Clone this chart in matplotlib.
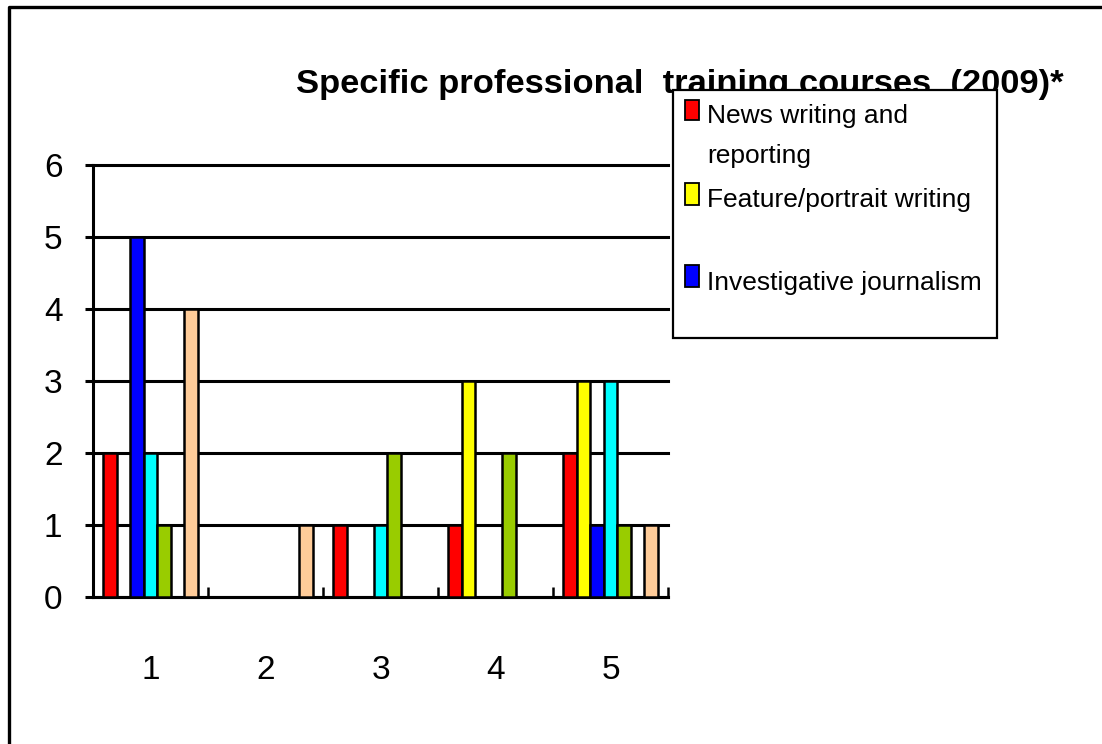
import numpy as np
import matplotlib.pyplot as plt
from matplotlib.patches import Rectangle
from matplotlib.lines import Line2D

# ─────────────────────────────────────────────
# DATOS
# ─────────────────────────────────────────────
categories = ["1", "2", "3", "4", "5"]

news          = [2, 0, 1, 1, 2]   # rojo
feature       = [0, 0, 0, 3, 3]   # amarillo
investigative = [5, 0, 0, 0, 1]   # azul
cyan_series   = [2, 0, 1, 0, 3]
green_series  = [1, 0, 2, 2, 1]
peach_series  = [4, 1, 0, 0, 1]

legend_labels = ["News writing and\nreporting", "Feature/portrait writing",
                 "Investigative journalism"]
title = "Specific professional  training courses  (2009)*"

# ─────────────────────────────────────────────
# ESTILO
# ─────────────────────────────────────────────
W, H = 1102, 744
FONT = ["Liberation Sans Narrow", "Liberation Sans", "DejaVu Sans"]
COLORS = ["#FF0000", "#FFFF00", "#0000FF", "#00FFFF", "#99CC00", "#FFCC99"]
SLOTS = [0, 1, 2, 3, 4, 6]      # el hueco 5 es una serie vacía
N_SLOTS = 7
BW = 0.1174


def fx(px):
    return px / W


def fy(py):
    return 1 - py / H


fig = plt.figure(figsize=(W / 100, H / 100), dpi=100)
fig.patch.set_facecolor("white")

ax = fig.add_axes([fx(93), fy(597), fx(668) - fx(93), fy(165) - fy(597)])

x = np.arange(len(categories))
series = [news, feature, investigative, cyan_series, green_series, peach_series]
for vals, col, slot in zip(series, COLORS, SLOTS):
    offs = (slot - (N_SLOTS - 1) / 2) * BW
    ax.bar(x + offs, vals, width=BW, color=col, edgecolor="black",
           linewidth=1.8, zorder=3)

ax.set_xlim(-0.5, len(categories) - 0.5)
ax.set_ylim(0, 6)
ax.set_yticks(range(0, 7))
ax.set_xticks(x)
ax.set_xticklabels(categories)
ax.set_xticks(np.arange(-0.5, len(categories)), minor=True)

ax.yaxis.grid(True, color="black", linewidth=2.2)
ax.set_axisbelow(True)
for gl in ax.yaxis.get_gridlines():
    gl.set_clip_on(False)
for s in ["top", "right"]:
    ax.spines[s].set_visible(False)
for s in ["left", "bottom"]:
    ax.spines[s].set_linewidth(2.2)

ax.tick_params(axis="y", direction="out", length=6, width=2.2, pad=16,
               labelsize=24)
ax.tick_params(axis="x", which="major", length=0, pad=42, labelsize=24)
ax.tick_params(axis="x", which="minor", direction="in", length=7, width=1.8)
for lab in ax.get_xticklabels() + ax.get_yticklabels():
    lab.set_family(FONT)

# título
fig.text(fx(680), fy(93), title, ha="center", va="baseline",
         fontsize=24.8, fontweight="bold", family=FONT)

# leyenda (recortada como en el original: solo caben 3 entradas)
fig.add_artist(Rectangle((fx(673), fy(338)), fx(997) - fx(673), fy(90) - fy(338),
                         transform=fig.transFigure, facecolor="white",
                         edgecolor="black", linewidth=1.6, zorder=5))
marks = [(100, 120, 123), (183, 205, 207), (265, 287, 290)]
for (top, bot, base), lab, col in zip(marks, legend_labels, COLORS[:3]):
    fig.add_artist(Rectangle((fx(685), fy(bot)), fx(699) - fx(685), fy(top) - fy(bot),
                             transform=fig.transFigure, facecolor=col,
                             edgecolor="black", linewidth=1.3, zorder=6))
    fig.text(fx(707), fy(base), lab.split("\n")[0], ha="left", va="baseline",
             fontsize=19, family=FONT, zorder=7)
    if "\n" in lab:
        fig.text(fx(707), fy(base + 40), lab.split("\n")[1], ha="left",
                 va="baseline", fontsize=19, family=FONT, zorder=7)

# marco exterior (solo lados izquierdo y superior visibles)
fig.add_artist(Line2D([fx(9), fx(9), fx(W + 5)], [fy(H + 5), fy(7), fy(7)],
                      transform=fig.transFigure, color="black", linewidth=2.4))

plt.savefig("out.png", dpi=100, facecolor=fig.get_facecolor())
